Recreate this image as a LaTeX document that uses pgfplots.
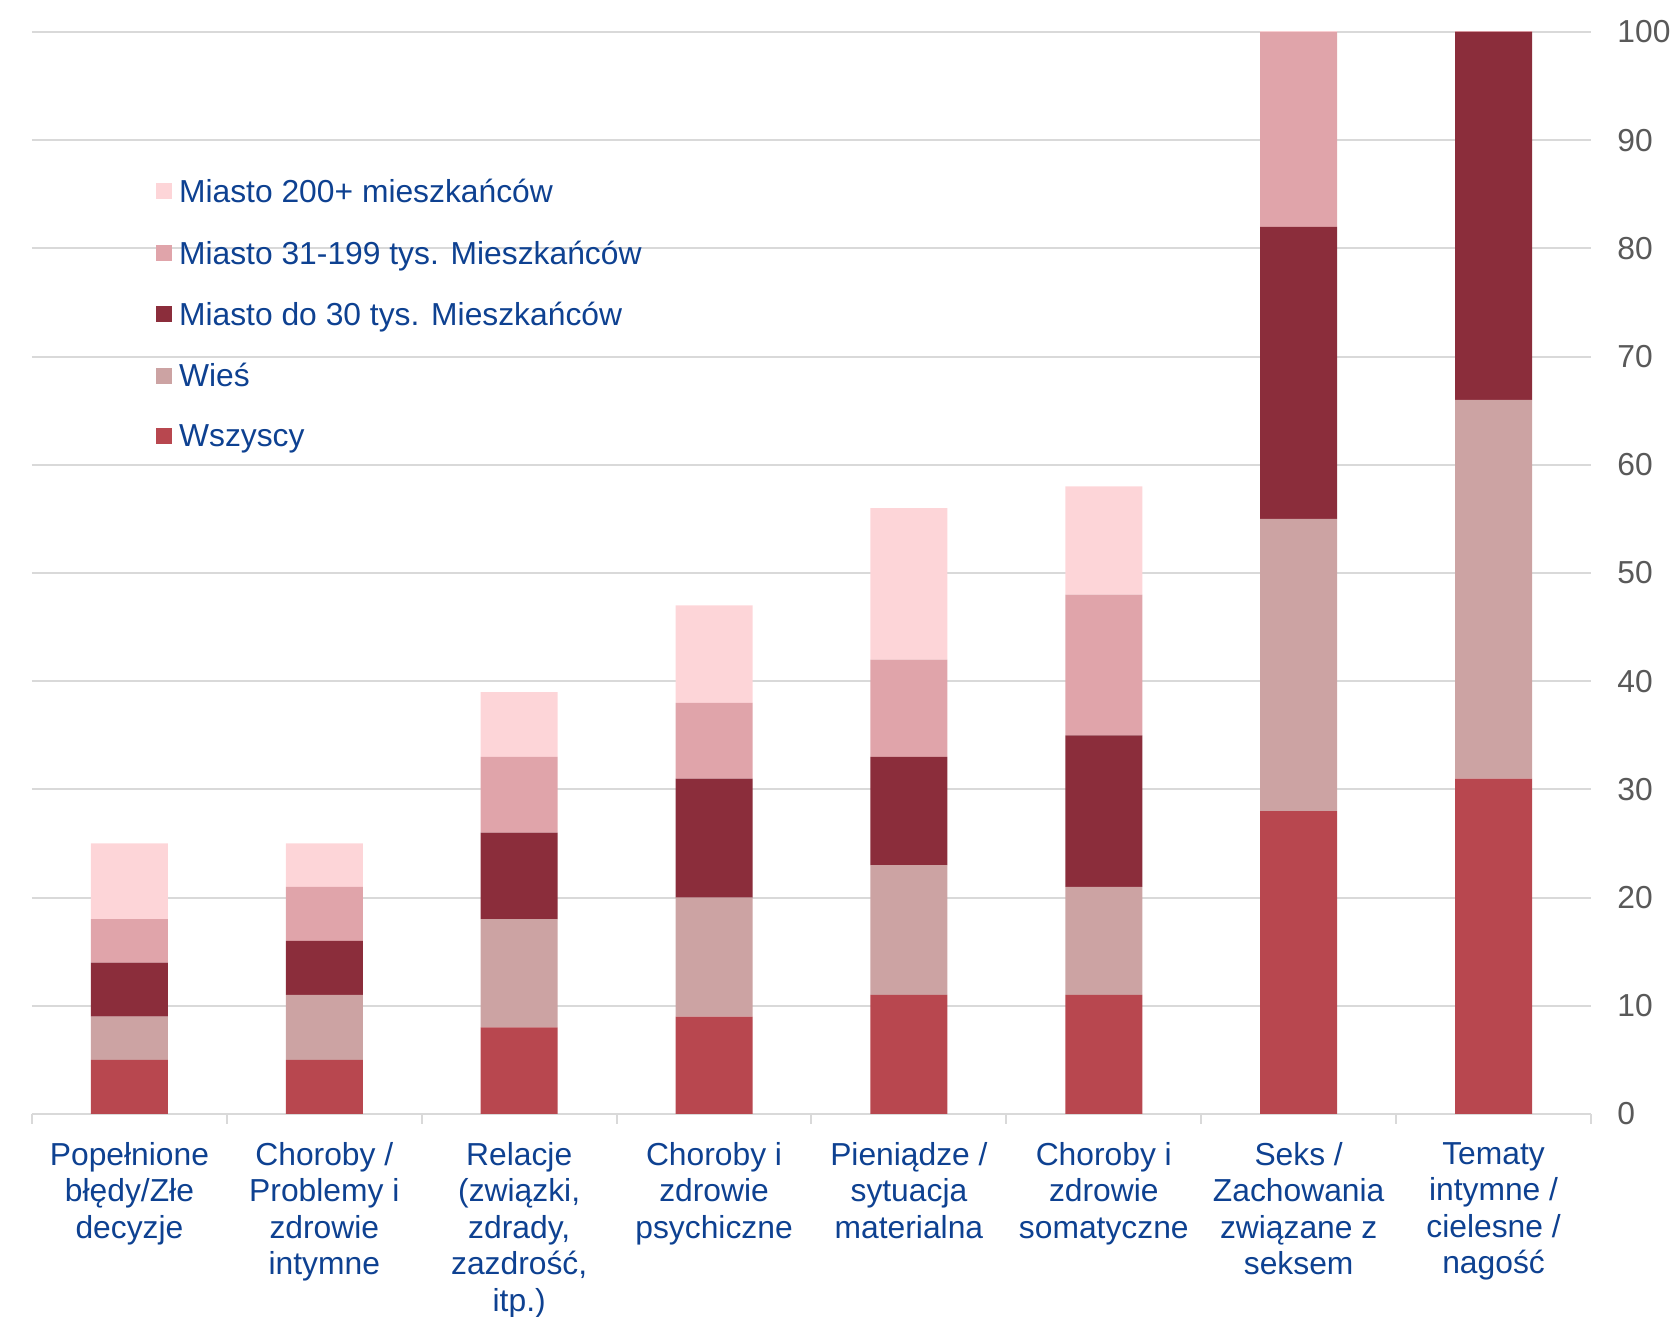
\documentclass[border=0pt]{standalone}
\usepackage{fontspec}
\setmainfont{Liberation Sans}
\usepackage{pgfplots}
\pgfplotsset{compat=1.18}
\usepackage{pgfplotstable}
\definecolor{cAll}{RGB}{184,71,79}
\definecolor{cWies}{RGB}{204,163,163}
\definecolor{cD30}{RGB}{139,45,59}
\definecolor{cM31}{RGB}{224,164,170}
\definecolor{cM200}{RGB}{253,213,216}
\definecolor{tblue}{RGB}{14,65,145}
\definecolor{tgray}{RGB}{89,89,89}
\definecolor{gridc}{RGB}{217,217,217}
\pgfplotstableread{
x W Wies D30 M31 M200
0 5 4 5 4 7
1 5 6 5 5 4
2 8 10 8 7 6
3 9 11 11 7 9
4 11 12 10 9 14
5 11 10 14 13 10
6 28 27 27 18 15
7 31 35 34 10 10
}\data
\newcommand{\lblfont}{\fontsize{15.9}{18.2}\selectfont}
\begin{document}
\begin{tikzpicture}
\path[use as bounding box] (-16pt,-101.5pt) rectangle (823pt,557pt);
\begin{axis}[
  at={(0pt,0pt)}, anchor=south west,
  scale only axis, width=779.5pt, height=541pt,
  ybar stacked, bar width=38.5pt,
  xmin=-0.5, xmax=7.5, ymin=0, ymax=100,
  axis x line*=bottom, axis y line*=right,
  y axis line style={draw=none},
  x axis line style={draw=gridc, line width=1pt},
  ytick={0,10,...,100},
  ymajorgrids, grid style={draw=gridc, line width=1pt},
  xtick={0,...,7},
  xticklabels={{Popełnione\\błędy/Złe\\decyzje},{Choroby /\\Problemy i\\zdrowie\\intymne},{Relacje\\(związki,\\zdrady,\\zazdrość,\\itp.)},{Choroby i\\zdrowie\\psychiczne},{Pieniądze /\\sytuacja\\materialna},{Choroby i\\zdrowie\\somatyczne},{Seks /\\Zachowania\\związane z\\seksem},{Tematy\\intymne /\\cielesne /\\nagość}},
  minor xtick={-0.5,0.5,...,7.5},
  major tick length=0pt, minor tick length=5pt, tick align=outside,
  minor tick style={draw=gridc, line width=1pt},
  /pgf/number format/assume math mode=true,
  xticklabel style={font=\lblfont, text=tblue, align=center, anchor=north, inner sep=0pt, yshift=-14pt},
  yticklabel style={font=\lblfont, text=tgray, anchor=west, inner sep=0pt, xshift=13pt},
  reverse legend,
  legend style={at={(0.0755,0.868)}, anchor=north west, draw=none, fill=none,
    font=\lblfont, text=tblue, row sep=17.5pt, column sep=3.5pt,
    nodes={inner sep=0pt}, cells={anchor=west}},
  legend image code/.code={\fill[#1] (0pt,-3.5pt) rectangle (8pt,4.5pt);},
]
\addplot[fill=cAll, draw=none] table[x=x, y=W] {\data};
\addlegendentry{Wszyscy}
\addplot[fill=cWies, draw=none] table[x=x, y=Wies] {\data};
\addlegendentry{Wieś}
\addplot[fill=cD30, draw=none] table[x=x, y=D30] {\data};
\addlegendentry{Miasto do 30 tys. Mieszkańców}
\addplot[fill=cM31, draw=none] table[x=x, y=M31] {\data};
\addlegendentry{Miasto 31-199 tys. Mieszkańców}
\addplot[fill=cM200, draw=none] table[x=x, y=M200] {\data};
\addlegendentry{Miasto 200+ mieszkańców}
\end{axis}
\end{tikzpicture}
\end{document}
